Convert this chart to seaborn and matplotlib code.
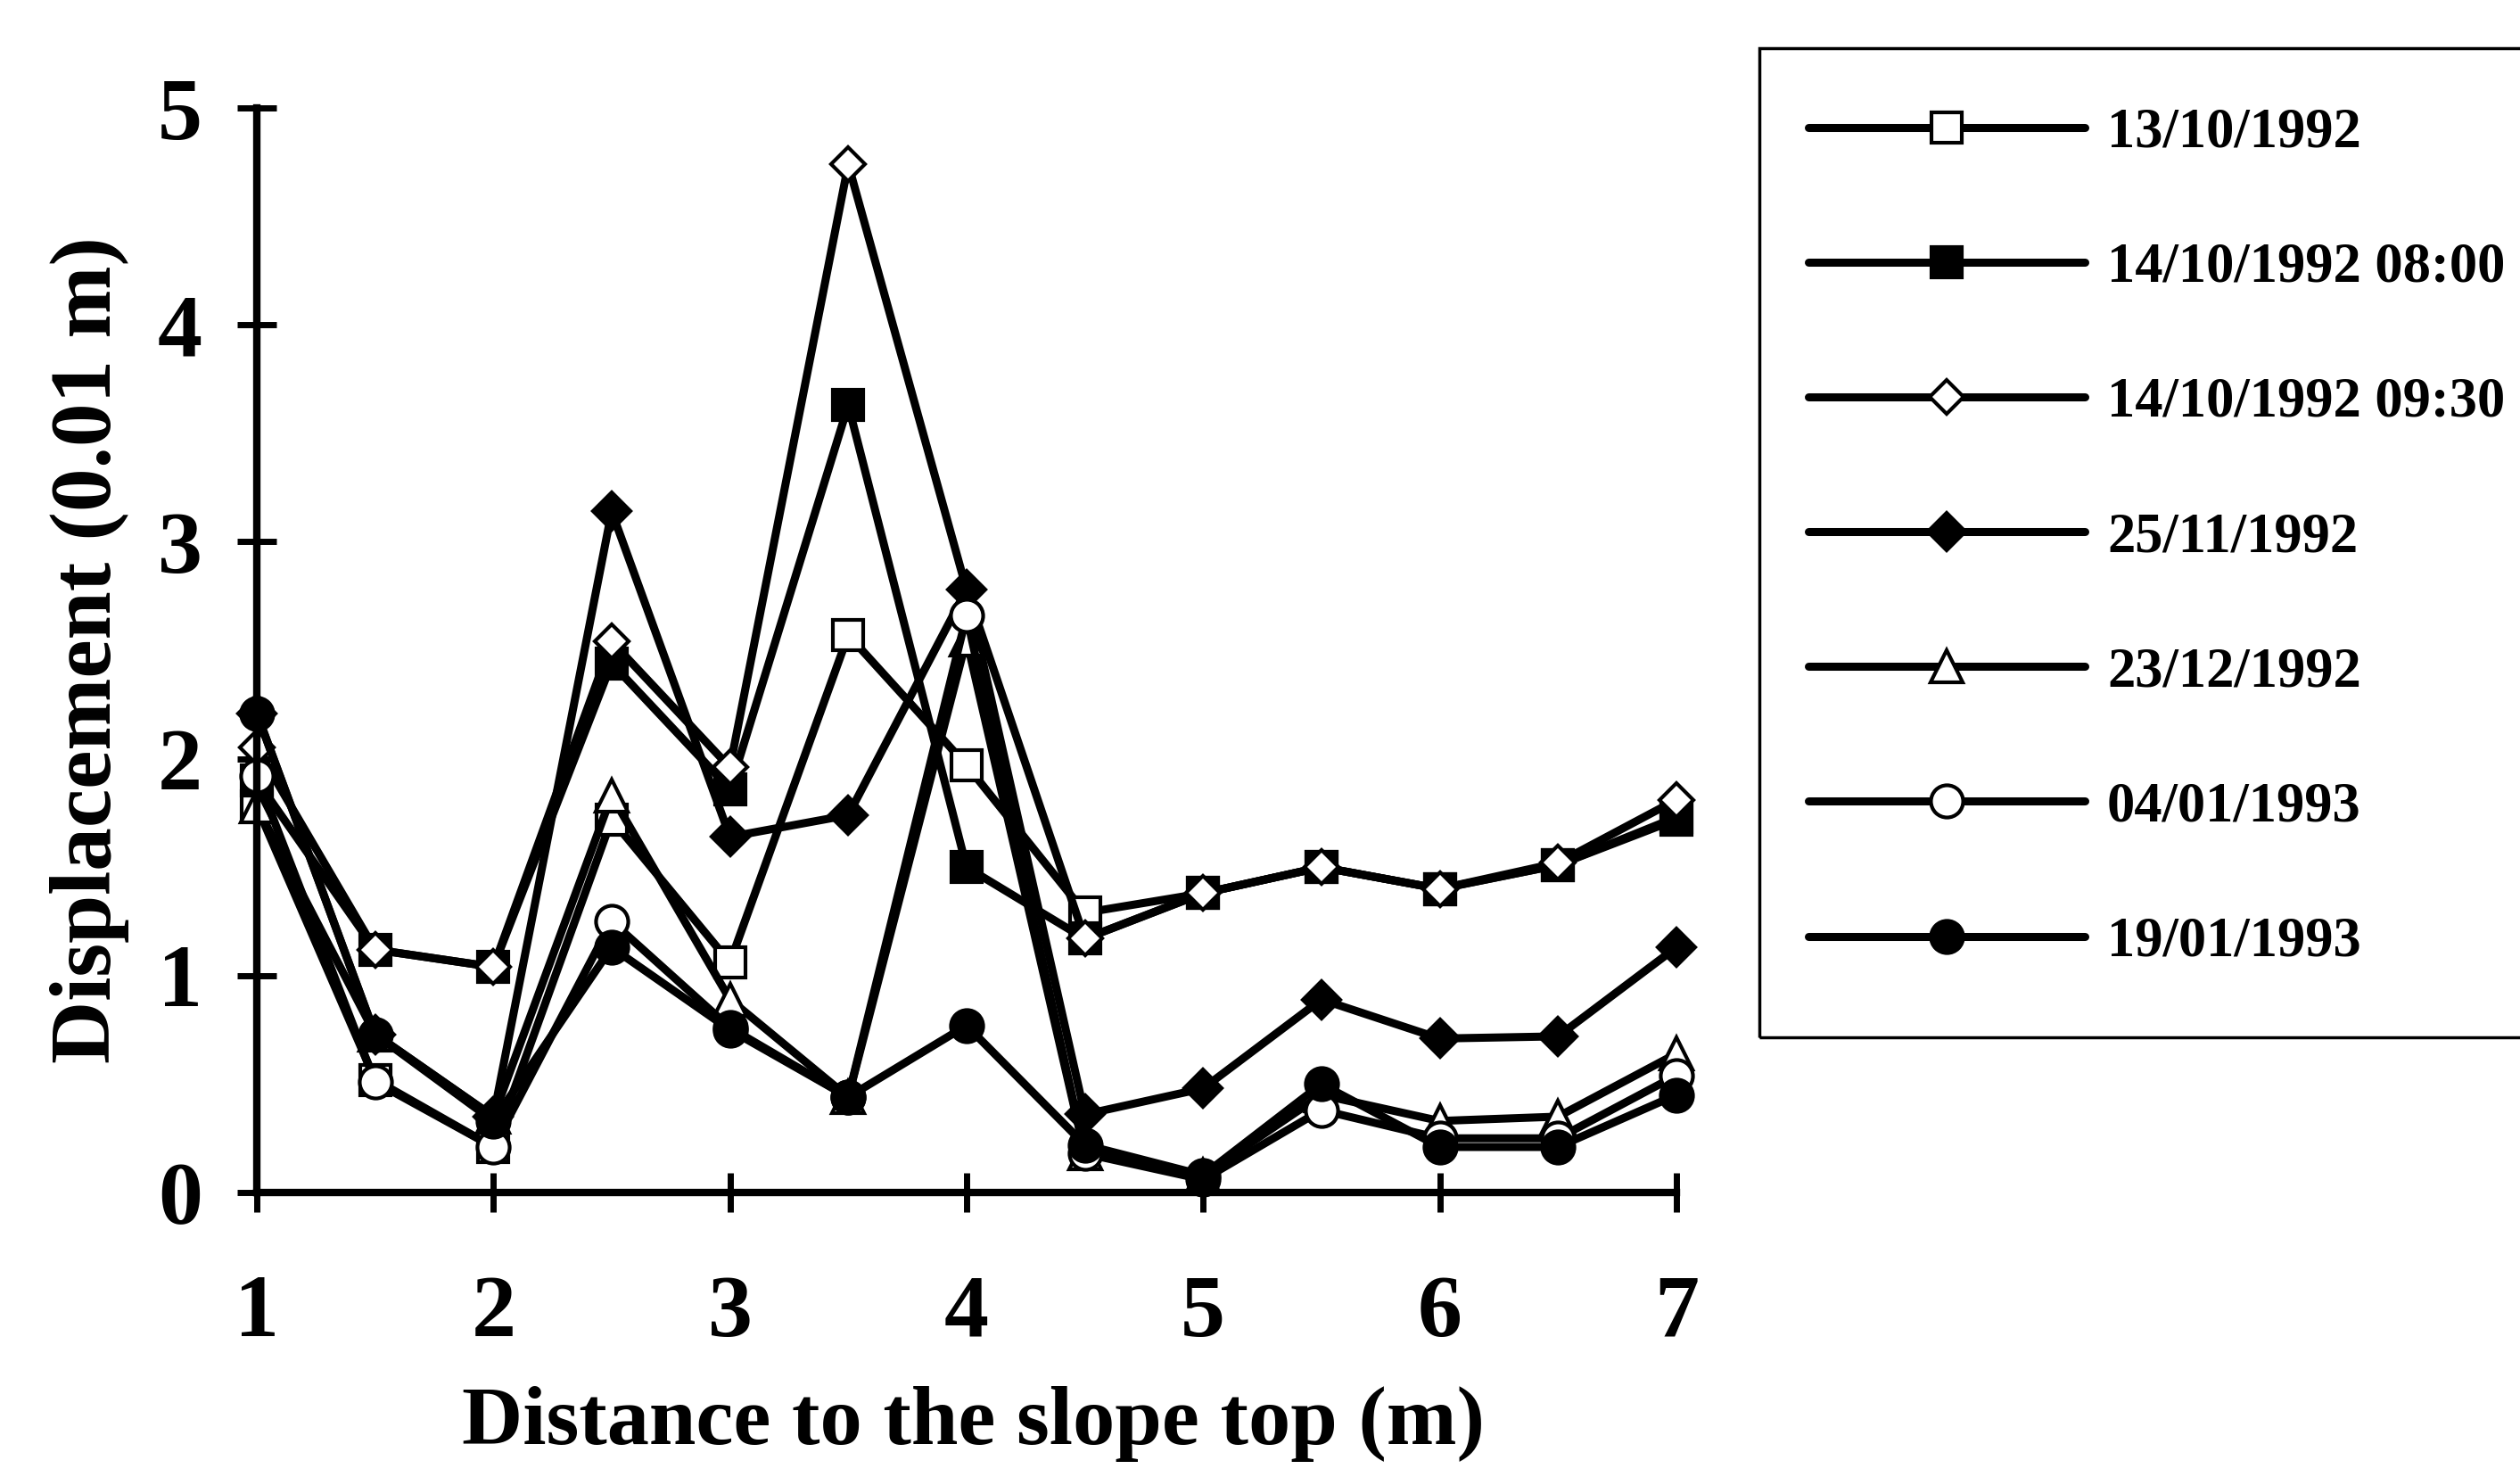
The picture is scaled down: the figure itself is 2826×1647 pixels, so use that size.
import matplotlib
matplotlib.use("Agg")
import matplotlib.pyplot as plt
from matplotlib.patches import Rectangle
from matplotlib.font_manager import FontProperties
import seaborn as sns
import pandas as pd

# distance to the slope top (m)
distance = [1, 1.5, 2, 2.5, 3, 3.5, 4, 4.5, 5, 5.5, 6, 6.5, 7]

# displacement (0.01 m) per survey date
d_13_10 = [1.78, 0.52, 0.21, 1.72, 1.06, 2.57, 1.97, 1.29, 1.38, 1.50, 1.40, 1.51, 1.72]
d_14_10_0800 = [1.90, 1.12, 1.04, 2.44, 1.86, 3.63, 1.50, 1.17, 1.38, 1.50, 1.40, 1.51, 1.73]
d_14_10_0930 = [2.05, 1.12, 1.04, 2.54, 1.96, 4.74, 2.78, 1.17, 1.38, 1.50, 1.40, 1.52, 1.81]
d_25_11 = [2.21, 0.73, 0.35, 3.14, 1.64, 1.74, 2.78, 0.36, 0.48, 0.89, 0.71, 0.72, 1.13]
d_23_12 = [1.78, 0.73, 0.35, 1.83, 0.89, 0.44, 2.55, 0.18, 0.08, 0.45, 0.33, 0.35, 0.64]
d_04_01 = [1.92, 0.51, 0.21, 1.25, 0.76, 0.44, 2.66, 0.18, 0.06, 0.38, 0.25, 0.25, 0.54]
d_19_01 = [2.21, 0.73, 0.33, 1.13, 0.75, 0.44, 0.77, 0.22, 0.08, 0.50, 0.21, 0.21, 0.45]

labels = ["13/10/1992", "14/10/1992 08:00", "14/10/1992 09:30", "25/11/1992",
          "23/12/1992", "04/01/1993", "19/01/1993"]
series = [d_13_10, d_14_10_0800, d_14_10_0930, d_25_11, d_23_12, d_04_01, d_19_01]

# marker, face colour, marker size
styles = [("s", "white", 24), ("s", "black", 24), ("D", "white", 19), ("D", "black", 21),
          ("^", "white", 26), ("o", "white", 26), ("o", "black", 26)]

sns.set_style("ticks")
plt.rcParams["font.family"] = ["Liberation Serif", "DejaVu Serif"]
plt.rcParams["font.weight"] = "bold"
plt.rcParams["text.color"] = "black"
plt.rcParams["axes.labelcolor"] = "black"
plt.rcParams["axes.edgecolor"] = "black"
plt.rcParams["xtick.color"] = "black"
plt.rcParams["ytick.color"] = "black"

fig = plt.figure(figsize=(28.26, 16.47), dpi=100)
ax = fig.add_axes([0.1019, 0.1882, 0.5633, 0.7383])

for lab, vals, (mk, fc, ms) in zip(labels, series, styles):
    df = pd.DataFrame({"distance": distance, "displacement": vals})
    sns.lineplot(data=df, x="distance", y="displacement", ax=ax, color="black",
                 lw=6.5, marker=mk, markersize=ms, markerfacecolor=fc,
                 markeredgecolor="black", markeredgewidth=3, label=lab,
                 clip_on=False, legend=False)

ax.set_xlim(1, 7)
ax.set_ylim(0, 5)
ax.set_xticks([1, 2, 3, 4, 5, 6, 7])
ax.set_yticks([0, 1, 2, 3, 4, 5])
sns.despine(ax=ax)
for s in ["left", "bottom"]:
    ax.spines[s].set_linewidth(6)
    ax.spines[s].set_color("black")
ax.tick_params(axis="both", direction="inout", length=32, width=5, labelsize=72,
               colors="black")
ax.tick_params(axis="x", pad=50)
ax.tick_params(axis="y", pad=28)
for t in ax.get_xticklabels() + ax.get_yticklabels():
    t.set_fontweight("bold")

ax.set_xlabel("Distance to the slope top (m)", fontsize=68, fontweight="bold",
              va="baseline", color="black")
ax.set_ylabel("Displacement (0.01 m)", fontsize=70, fontweight="bold", va="center",
              color="black")
ax.xaxis.set_label_coords(0.505, -0.232)
ax.yaxis.set_label_coords(-0.118, 0.5)

# legend frame running off the right edge
fig.patches.append(Rectangle((0.698, 0.294), 0.32, 0.673, transform=fig.transFigure,
                             fill=False, edgecolor="black", lw=2.5))
handles, labs = ax.get_legend_handles_labels()
fig.legend(handles, labs, loc="upper left", bbox_to_anchor=(0.7176, 0.9267),
           frameon=False, borderpad=0, borderaxespad=0, handlelength=4.96,
           handletextpad=0.4, labelspacing=1.49, numpoints=1,
           prop=FontProperties(family="Liberation Serif", weight="bold", size=45))

fig.savefig("out.png", dpi=100)
